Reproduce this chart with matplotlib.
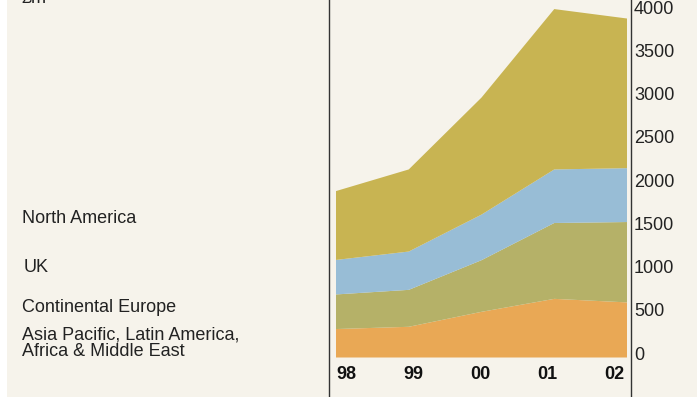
import matplotlib
matplotlib.use("Agg")
import matplotlib.pyplot as plt
import matplotlib.transforms as mtransforms
from matplotlib.lines import Line2D
from matplotlib.patches import Rectangle

plt.rcParams['font.family'] = ['Liberation Sans', 'DejaVu Sans']

years = ["98", "99", "00", "01", "02"]
asia_pacific = [329, 355, 528, 678, 637]
continental_europe = [400, 427, 597, 877, 929]
uk = [399, 443, 527, 619, 623]
north_america = [796, 949, 1353, 1854, 1730]

series_labels = ["Asia Pacific, Latin America,\nAfrica & Middle East",
                 "Continental Europe", "UK", "North America"]
colors = ["#e9a855", "#b5b168", "#98bdd6", "#c8b452"]
yticks = [0, 500, 1000, 1500, 2000, 2500, 3000, 3500, 4000]

W, H = 697, 397
fig = plt.figure(figsize=(W / 100, H / 100), dpi=100)
fig.patch.set_facecolor("white")
fig.patches.append(Rectangle((7 / W, 0), 1 - 7 / W, 1, transform=fig.transFigure,
                             facecolor="#f6f3eb", edgecolor="none", zorder=-10))

# axes box in pixels: x 336..627, y(0)=357.5, y(4000)=11.5, runs to the top edge
px_per_unit = (357.5 - 11.5) / 4000
ytop = 4000 + 11.5 / px_per_unit
ax = fig.add_axes([336 / W, (H - 357.5) / H, (627 - 336) / W, 357.5 / H])
ax.set_facecolor("none")
x = list(range(len(years)))
ax.stackplot(x, asia_pacific, continental_europe, uk, north_america,
             colors=colors, linewidth=0)
ax.set_xlim(0, 4)
ax.set_ylim(0, ytop)
for s in ax.spines.values():
    s.set_visible(False)

ax.yaxis.tick_right()
ax.set_yticks(yticks)
ax.set_yticklabels([str(v) for v in yticks], fontsize=13, color="#222222")
ax.tick_params(axis="y", length=0, pad=5)
shift = mtransforms.ScaledTranslation(0, 4.4 / 100, fig.dpi_scale_trans)
for lab in ax.get_yticklabels():
    lab.set_transform(lab.get_transform() + shift)

# year labels are spread evenly a bit inside the data range
xpos = [0.14 + i * 0.9225 for i in range(len(years))]
ax.set_xticks(xpos)
ax.set_xticklabels(years, fontsize=13, fontweight="bold", color="#111111")
ax.tick_params(axis="x", length=0, pad=6)

# vertical rules
for px in (329, 630.5):
    fig.lines.append(Line2D([px / W, px / W], [0, 1], transform=fig.transFigure,
                            color="#333333", linewidth=1))

# left-hand labels
label_y = [343.5, 308, 268, 218.5]
label_x = [22, 22, 24, 22]
for lab, lx, ly in zip(series_labels, label_x, label_y):
    fig.text(lx / W, 1 - ly / H, lab, fontsize=13, color="#222222",
             ha="left", va="center", linespacing=0.95)
fig.text(22 / W, 1 - 3 / H, "£m", fontsize=13, color="#222222",
         ha="left", va="baseline")

fig.savefig("out.png", dpi=100, facecolor=fig.get_facecolor())
